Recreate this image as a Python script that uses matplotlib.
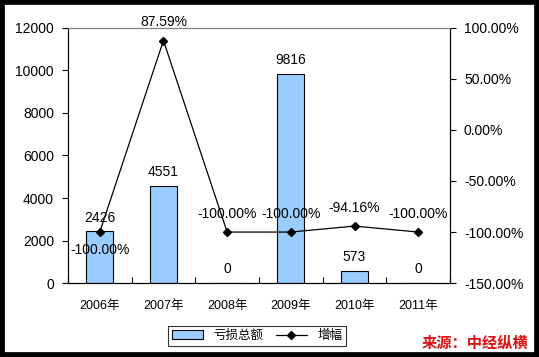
import matplotlib
matplotlib.use("Agg")
import matplotlib.pyplot as plt
from matplotlib.patches import Rectangle
import numpy as np

plt.rcParams["font.family"] = ["Liberation Sans", "Noto Sans CJK SC", "DejaVu Sans"]

years = ["2006年", "2007年", "2008年", "2009年", "2010年", "2011年"]
loss = [2426, 4551, 0, 9816, 573, 0]
growth = [-100.00, 87.59, -100.00, -100.00, -94.16, -100.00]
growth_labels = ["-100.00%", "87.59%", "-100.00%", "-100.00%", "-94.16%", "-100.00%"]

fig = plt.figure(figsize=(5.39, 3.57), dpi=100)
ax = fig.add_axes([0.126, 0.207, 0.709, 0.715])
x = np.arange(len(years))

bars = ax.bar(x, loss, width=0.42, color="#99CCFF", edgecolor="black",
              linewidth=0.8, label="亏损总额", zorder=2)
ax.set_xlim(-0.5, len(years) - 0.5)
ax.set_ylim(0, 12000)
ax.set_yticks(range(0, 12001, 2000))
ax.tick_params(axis="y", direction="out", length=4, labelsize=10, pad=6)
ax.set_xticks(np.arange(-0.5, len(years), 1.0))
ax.set_xticklabels([])
ax.tick_params(axis="x", which="major", direction="in", length=4)
ax.set_xticks(x, minor=True)
ax.set_xticklabels(years, minor=True, fontsize=9)
ax.tick_params(axis="x", which="minor", length=0, pad=12)
for v, xi in zip(loss, x):
    ax.annotate(str(v), (xi, v), xytext=(0, 10), textcoords="offset points",
                ha="center", va="center", fontsize=10)

ax2 = ax.twinx()
ln, = ax2.plot(x, growth, color="black", linewidth=0.9, marker="D",
               markersize=4, label="增幅", zorder=3)
ax2.set_ylim(-150, 100)
ax2.set_yticks(range(-150, 101, 50))
ax2.set_yticklabels([f"{t:.2f}%" for t in range(-150, 101, 50)])
ax2.tick_params(axis="y", direction="out", length=4, labelsize=10, pad=6)
for i, (g, lab) in enumerate(zip(growth, growth_labels)):
    dy = -13 if i == 0 else 13
    ax2.annotate(lab, (x[i], g), xytext=(0, dy), textcoords="offset points",
                 ha="center", va="center", fontsize=10)

for a in (ax, ax2):
    a.spines["top"].set_color("#808080")
    a.spines["left"].set_color("black")
    a.spines["right"].set_color("black")
    a.spines["bottom"].set_color("black")
    a.set_zorder(1)
ax2.set_zorder(2)
ax.patch.set_visible(False)

leg = fig.legend([bars, ln], ["亏损总额", "增幅"], loc="center",
                 bbox_to_anchor=(0.477, 0.059), ncol=2, fontsize=9,
                 frameon=True, fancybox=False, edgecolor="black",
                 handlelength=2.5, borderpad=0.3, columnspacing=1.0)
leg.get_frame().set_linewidth(0.8)

fig.text(0.992 - 0.012, 0.04, "来源：中经纵横", ha="right", va="center",
         fontsize=11, color="#DD1111", fontweight="bold", style="italic",
         family=["Noto Sans CJK SC"])

fig.patches.append(Rectangle((0, 0), 1, 1, transform=fig.transFigure,
                             fill=False, edgecolor="black", linewidth=7))

fig.savefig("out.png", dpi=100)
